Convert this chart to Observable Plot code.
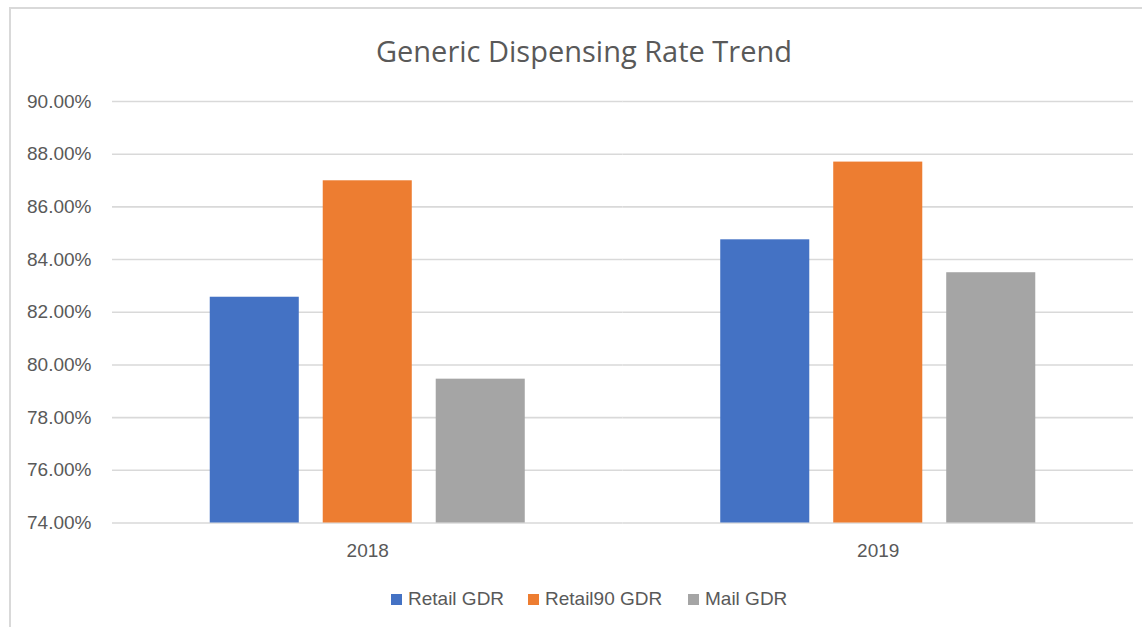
<!DOCTYPE html>
<html>
<head>
<meta charset="utf-8">
<script src="https://cdn.jsdelivr.net/npm/d3@7"></script>
<script src="https://cdn.jsdelivr.net/npm/@observablehq/plot@0.6"></script>
<style>
  html, body { margin: 0; padding: 0; background: #fff; }
  #wrap { position: relative; width: 1142px; height: 627px; overflow: hidden; background: #fff; }
  #frame { position: absolute; left: 9px; top: 7px; width: 1200px; height: 700px; border: 2px solid #d9d9d9; box-sizing: border-box; }
  #title { position: absolute; left: 0; width: 1168px; top: 34px; text-align: center; font-family: "Open Sans", sans-serif; font-size: 29px; line-height: 34px; color: #595959; }
  #chart { position: absolute; left: 0; top: 80px; }
  #legend { position: absolute; left: 0; top: 588px; width: 1142px; height: 24px; font-family: "Liberation Sans", sans-serif; font-size: 19px; color: #595959; }
  .item { position: absolute; top: 0; line-height: 22px; white-space: nowrap; }
  .sw { display: inline-block; width: 11px; height: 11px; margin-right: 6px; vertical-align: 0px; }
</style>
</head>
<body>
<div id="wrap">
  <div id="frame"></div>
  <div id="title">Generic Dispensing Rate Trend</div>
  <div id="chart"></div>
  <div id="legend"></div>
</div>
<script>
const years = ["2018", "2019"];
const series = ["Retail GDR", "Retail90 GDR", "Mail GDR"];
const retailGDR = [0.8257, 0.8475];
const retail90GDR = [0.8699, 0.8770];
const mailGDR = [0.7946, 0.8350];
const colors = ["#4472C4", "#ED7D31", "#A5A5A5"];
const yTicks = [0.74, 0.76, 0.78, 0.80, 0.82, 0.84, 0.86, 0.88, 0.90];
const legendLeft = [391, 528, 688];

const valuesBySeries = [retailGDR, retail90GDR, mailGDR];
const data = years.flatMap((yr, i) =>
  series.map((s, j) => ({year: yr, series: s, value: valuesBySeries[j][i]}))
);

const fmt = d3.format(".2%");

const chart = Plot.plot({
  width: 1142,
  height: 490,
  marginLeft: 112,
  marginRight: 9,
  marginTop: 21,
  marginBottom: 47.5,
  style: {fontFamily: "Liberation Sans, sans-serif", fontSize: "19px", color: "#595959", background: "transparent", overflow: "visible"},
  fx: {domain: years, padding: 0, round: false, label: null},
  x: {domain: series, paddingInner: 0.212, paddingOuter: 0.865, round: false, axis: null},
  y: {domain: [yTicks[0], yTicks[yTicks.length - 1]], clamp: true, label: null},
  color: {domain: series, range: colors},
  marks: [
    Plot.gridY(yTicks, {stroke: "#d9d9d9", strokeOpacity: 1, strokeWidth: 1.6}),
    Plot.axisY(yTicks, {tickFormat: fmt, tickSize: 0, tickPadding: 21, fill: "#595959", label: null}),
    Plot.axisFx({anchor: "bottom", tickSize: 0, tickPadding: 20, fill: "#595959", label: null}),
    Plot.barY(data, {fx: "year", x: "series", y: "value", fill: "series"})
  ]
});
document.getElementById("chart").appendChild(chart);

const legend = document.getElementById("legend");
series.forEach((s, j) => {
  const it = document.createElement("div");
  it.className = "item";
  it.style.left = legendLeft[j] + "px";
  const sw = document.createElement("span");
  sw.className = "sw";
  sw.style.background = colors[j];
  it.appendChild(sw);
  it.appendChild(document.createTextNode(s));
  legend.appendChild(it);
});
</script>
</body>
</html>
